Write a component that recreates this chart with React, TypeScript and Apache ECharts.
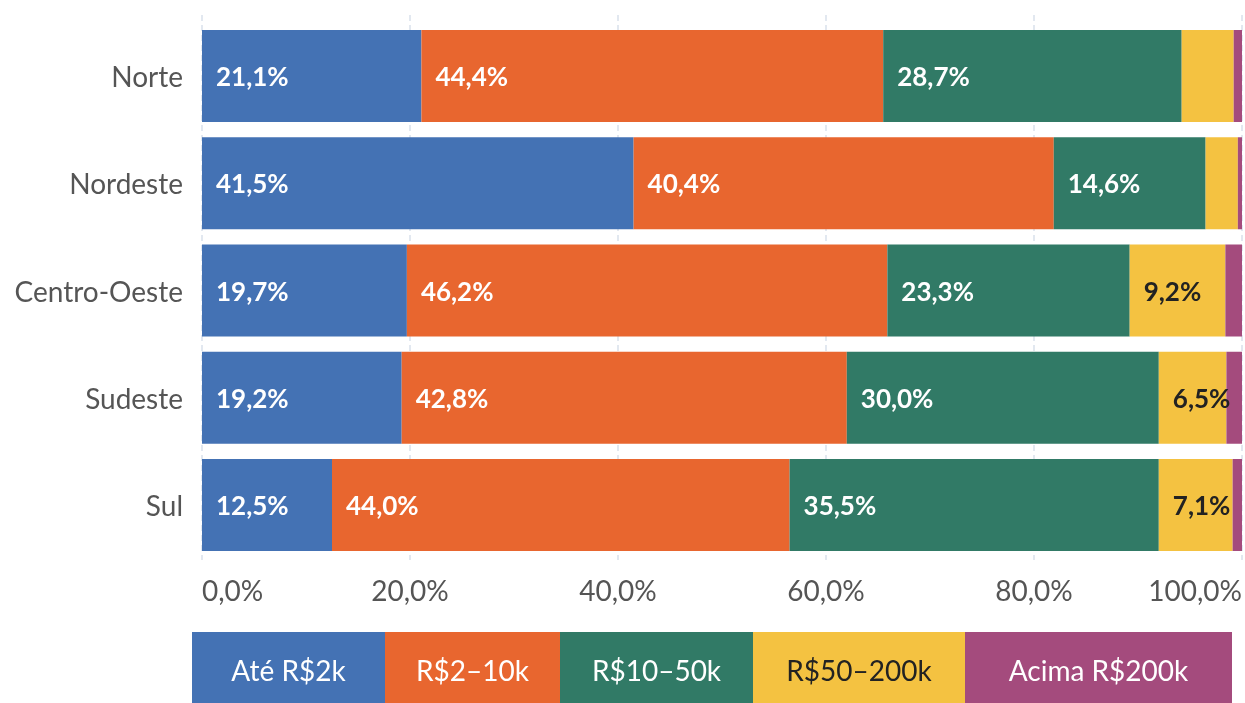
import React, { useEffect, useRef } from "react";
import * as echarts from "echarts";

const categories = ["Norte", "Nordeste", "Centro-Oeste", "Sudeste", "Sul"];
const seriesNames = ["Até R$2k", "R$2–10k", "R$10–50k", "R$50–200k", "Acima R$200k"];
const ate2k = [21.1, 41.5, 19.7, 19.2, 12.5];
const r2a10k = [44.4, 40.4, 46.2, 42.8, 44.0];
const r10a50k = [28.7, 14.6, 23.3, 30.0, 35.5];
const r50a200k = [5.0, 3.1, 9.2, 6.5, 7.1];
const acima200k = [0.8, 0.4, 1.6, 1.5, 0.9];
const xTicks = [0, 20, 40, 60, 80, 100];

const colors = ["#4472B4", "#E8662F", "#317A66", "#F4C241", "#A44B7D"];
const labelColors = ["#ffffff", "#ffffff", "#ffffff", "#222222", "#ffffff"];
const legendWidths = [193, 175, 193, 212, 267];
const FONT = "Lato";

const fmt = (v: number) => v.toFixed(1).replace(".", ",") + "%";

export default function App() {
  const ref = useRef<HTMLDivElement>(null);
  useEffect(() => {
    if (!ref.current) return;
    const chart = echarts.init(ref.current, undefined, { renderer: "svg" });
    const values = [ate2k, r2a10k, r10a50k, r50a200k, acima200k];
    const series = values.map((arr, i) => ({
      name: seriesNames[i],
      type: "bar" as const,
      stack: "total",
      xAxisIndex: 0,
      yAxisIndex: 0,
      barCategoryGap: "14.2%",
      data: arr,
      itemStyle: { color: colors[i] },
      label: {
        show: true,
        position: "insideLeft" as const,
        distance: 14,
        color: labelColors[i],
        fontFamily: FONT,
        fontWeight: "bold" as const,
        fontSize: 26,
        formatter: (p: any) => (p.value >= 6 ? fmt(p.value) : ""),
      },
    }));

    const graphic: any[] = [];
    let x = 192;
    seriesNames.forEach((n, i) => {
      const w = legendWidths[i];
      graphic.push({
        type: "rect",
        left: x,
        top: 632,
        shape: { width: w, height: 71 },
        style: { fill: colors[i] },
      });
      graphic.push({
        type: "text",
        x: x + w / 2,
        y: 670,
        style: {
          text: n,
          fill: labelColors[i],
          font: `28px ${FONT}`,
          textAlign: "center",
          textVerticalAlign: "middle",
        },
      });
      x += w;
    });

    chart.setOption({
      animation: false,
      grid: [
        { left: 202, right: 3, top: 22.4, bottom: 144.4, containLabel: false, outerBoundsMode: "none" },
        { left: 202, right: 3, top: 15, bottom: 143, containLabel: false, outerBoundsMode: "none" },
      ],
      xAxis: [
        {
          type: "value",
          gridIndex: 0,
          min: xTicks[0],
          max: xTicks[xTicks.length - 1],
          interval: 20,
          axisLine: { show: false },
          axisTick: { show: false },
          splitLine: { show: false },
          axisLabel: {
            color: "#555555",
            fontFamily: FONT,
            fontSize: 28,
            margin: 17,
            alignMinLabel: "left",
            alignMaxLabel: "right",
            hideOverlap: false,
            formatter: (v: number) => fmt(v),
          },
        },
        {
          type: "value",
          gridIndex: 1,
          min: xTicks[0],
          max: xTicks[xTicks.length - 1],
          interval: 20,
          axisLine: { show: false },
          axisTick: { show: false },
          axisLabel: { show: false },
          splitLine: {
            show: true,
            lineStyle: { color: "#E2E8F0", width: 2, type: [6, 4] },
          },
        },
      ],
      yAxis: [
        {
          type: "category",
          gridIndex: 0,
          data: categories,
          inverse: true,
          axisLine: { show: false },
          axisTick: { show: false },
          axisLabel: {
            color: "#555555",
            fontFamily: FONT,
            fontSize: 28,
            margin: 19,
          },
        },
        {
          type: "category",
          gridIndex: 1,
          data: categories,
          inverse: true,
          show: false,
        },
      ],
      series,
      graphic,
    });
    return () => chart.dispose();
  }, []);
  return (
    <div
      ref={ref}
      style={{ position: "fixed", left: 0, top: 0, width: 1245, height: 703 }}
    />
  );
}
